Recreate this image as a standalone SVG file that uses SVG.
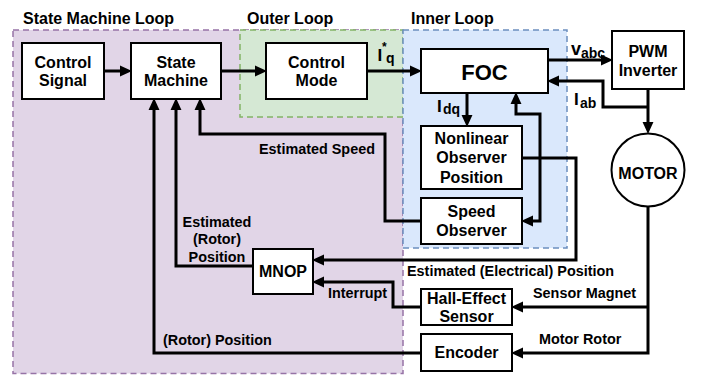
<svg xmlns="http://www.w3.org/2000/svg" width="709" height="375" viewBox="0 0 709 375">
<style>
text{font-family:"Liberation Sans",Arial,sans-serif;font-weight:bold;fill:#000}
.t{font-size:16px}
.b{font-size:16px;text-anchor:middle}
.e{font-size:14.4px}
.box{fill:#fff;stroke:#000;stroke-width:2}
.c{fill:none;stroke:#000;stroke-width:3;stroke-linejoin:miter}
.a{marker-end:url(#ah)}
</style>
<defs>
<marker id="ah" markerUnits="userSpaceOnUse" markerWidth="12" markerHeight="12" refX="0" refY="5" orient="auto-start-reverse" viewBox="0 0 11 10">
<path d="M0,0 L11,5 L0,10 z" fill="#000"/>
</marker>
</defs>
<g id="regions">
<rect x="13" y="30" width="390" height="343.5" fill="#e1d5e7" stroke="#9673a6" stroke-width="1.5" stroke-dasharray="6,4"/>
<rect x="240" y="30" width="163" height="87" fill="#d5e8d4" stroke="#82b366" stroke-width="1.5" stroke-dasharray="6,4"/>
<rect x="403" y="30" width="164" height="218" fill="#dae8fc" stroke="#6c8ebf" stroke-width="1.5" stroke-dasharray="6,4"/>
<text class="t" x="23" y="24">State Machine Loop</text>
<text class="t" x="247" y="24">Outer Loop</text>
<text class="t" x="411" y="24">Inner Loop</text>
</g>
<g id="connectors">
<path class="c a" d="M104 71 H120"/>
<path class="c a" d="M221 71 H255"/>
<path class="c a" d="M367 71 H410"/>
<path class="c a" d="M548 60 H601"/>
<path class="c a" d="M648 89 V122"/>
<path class="c a" d="M648 107 H603 V81 H559"/>
<path class="c a" d="M467 93 V115"/>
<path class="c a" d="M533 221 H540 V114 H516 V104" marker-start="url(#ah)"/>
<path class="c a" d="M522 158 H576 V260 H324"/>
<path class="c a" d="M421 221 H385 V134 H200 V110"/>
<path class="c a" d="M253 266 H176 V110"/>
<path class="c a" d="M421 353 H154 V110"/>
<path class="c a" d="M421 307 H393 V282 H324"/>
<path class="c a" d="M648 207 V353 H523"/>
<path class="c a" d="M648 307 H523"/>
<text style="font-size:17px" x="377.5" y="61">I</text>
<text style="font-size:12px" x="382" y="51">*</text>
<text style="font-size:14px" x="386" y="62.5">q</text>
<text style="font-size:18px" x="571" y="55">v</text>
<text style="font-size:14px" x="581" y="57.5">abc</text>
<text style="font-size:17px" x="574" y="105">I</text>
<text style="font-size:14px" x="580" y="107.5">ab</text>
<text style="font-size:17px" x="437" y="112">I</text>
<text style="font-size:14px" x="443" y="114">dq</text>
<text class="e" x="259" y="154">Estimated Speed</text>
<text class="e" x="217" y="226.5" text-anchor="middle">Estimated</text>
<text class="e" x="217" y="244" text-anchor="middle">(Rotor)</text>
<text class="e" x="217" y="261.5" text-anchor="middle">Position</text>
<text class="e" x="407" y="276">Estimated (Electrical) Position</text>
<text class="e" x="328" y="297.5">Interrupt</text>
<text class="e" x="533" y="297.5">Sensor Magnet</text>
<text class="e" x="539" y="344">Motor Rotor</text>
<text class="e" x="163" y="345">(Rotor) Position</text>
</g>
<g id="control-signal">
<rect class="box" x="22" y="43" width="82" height="56"/>
<text class="b" x="63" y="68">Control</text>
<text class="b" x="63" y="86">Signal</text>
</g>
<g id="state-machine">
<rect class="box" x="131" y="43" width="90" height="56"/>
<text class="b" x="176" y="68">State</text>
<text class="b" x="176" y="86">Machine</text>
</g>
<g id="control-mode">
<rect class="box" x="266" y="43" width="101" height="56"/>
<text class="b" x="316.5" y="68">Control</text>
<text class="b" x="316.5" y="86">Mode</text>
</g>
<g id="foc">
<rect class="box" x="421" y="49" width="127" height="44"/>
<text class="b" style="font-size:22px" x="484.5" y="80">FOC</text>
</g>
<g id="pwm-inverter">
<rect class="box" x="612" y="31" width="72" height="58"/>
<text class="b" x="648" y="57">PWM</text>
<text class="b" x="648" y="76">Inverter</text>
</g>
<g id="motor">
<circle cx="648" cy="170" r="36.5" fill="#fff" stroke="#000" stroke-width="2"/>
<text class="b" x="648" y="179">MOTOR</text>
</g>
<g id="nonlinear-observer">
<rect class="box" x="421" y="126" width="101" height="63"/>
<text class="b" x="471.5" y="143.5">Nonlinear</text>
<text class="b" x="471.5" y="163">Observer</text>
<text class="b" x="471.5" y="182.5">Position</text>
</g>
<g id="speed-observer">
<rect class="box" x="421" y="198" width="101" height="46"/>
<text class="b" x="471.5" y="216.5">Speed</text>
<text class="b" x="471.5" y="236">Observer</text>
</g>
<g id="mnop">
<rect class="box" x="253" y="249" width="60" height="45"/>
<text class="b" x="283" y="277">MNOP</text>
</g>
<g id="hall-effect-sensor">
<rect class="box" x="421" y="289" width="91" height="36"/>
<text class="b" x="466.5" y="304">Hall-Effect</text>
<text class="b" x="466.5" y="321.5">Sensor</text>
</g>
<g id="encoder">
<rect class="box" x="421" y="334" width="91" height="37"/>
<text class="b" x="466.5" y="358">Encoder</text>
</g>
</svg>
